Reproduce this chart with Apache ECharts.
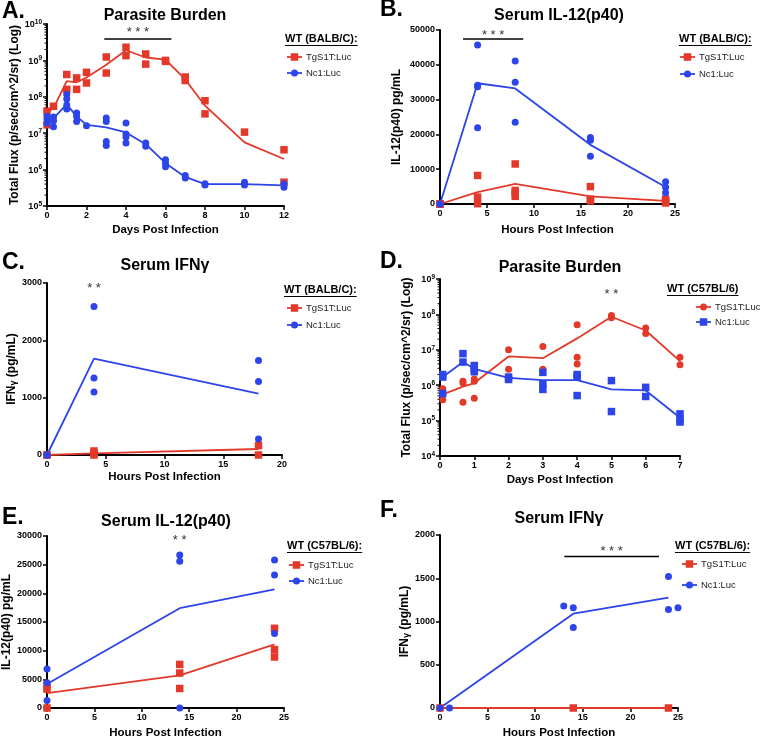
<!DOCTYPE html>
<html><head><meta charset="utf-8">
<script src="https://cdn.jsdelivr.net/npm/echarts@6/dist/echarts.min.js"></script>
<style>html,body{margin:0;padding:0;background:#fff}#c{width:760px;height:740px}</style>
</head><body><div id="c"></div>
<script>
// ---------------- DATA ----------------
// Panel A: Parasite Burden, WT (BALB/C), days
const aTgX = [0,0,0.33,1,1,1.5,1.5,2,2,3,3,4,4,5,5,6,6,7,7,8,8,10,12,12];
const aTgY = [4.0e7,1.7e7,5.5e7,4.1e8,1.6e8,3.3e8,1.6e8,4.7e8,2.4e8,1.24e9,4.5e8,2.3e9,1.35e9,1.5e9,7.9e8,1.0e9,9.4e8,3.5e8,2.8e8,7.8e7,3.4e7,1.07e7,3.5e6,4.5e5];
const aTgMeanX = [0,0.33,1,1.5,2,3,4,5,6,7,8,10,12];
const aTgMeanY = [3.6e7,4.9e7,2.7e8,2.5e8,3.4e8,7.6e8,1.9e9,1.2e9,1.05e9,3.0e8,5.7e7,5.6e6,1.95e6];
const aNcX = [0,0,0,0.33,0.33,0.33,1,1,1,1,1.5,1.5,1.5,2,3,3,3,3,4,4,4,4,5,5,6,6,6,7,7,8,8,10,10,12,12];
const aNcY = [2.5e7,1.9e7,2.9e7,2.8e7,2.2e7,1.5e7,1.15e8,8.7e7,6.0e7,4.6e7,3.6e7,2.9e7,2.1e7,1.6e7,2.6e7,2.1e7,5.9e6,4.6e6,1.9e7,9.5e6,7.9e6,5.4e6,5.4e6,4.4e6,1.86e6,1.5e6,1.2e6,6.9e5,5.9e5,4.1e5,3.8e5,4.5e5,3.8e5,4.0e5,3.3e5];
const aNcMeanX = [0,0.33,1,1.5,2,3,4,5,6,7,8,10,12];
const aNcMeanY = [2.3e7,2.6e7,6.2e7,2.9e7,1.7e7,1.45e7,1.05e7,5.0e6,1.5e6,6.3e5,4.0e5,4.0e5,3.7e5];

// Panel B: Serum IL-12(p40), WT (BALB/C), hours
const bTgX = [0,0,0,4,4,4,8,8,8,8,16,16,16,24,24,24];
const bTgY = [0,0,0,8200,2000,100,11500,3900,3200,2200,5000,1400,900,1400,800,300];
const bTgMeanX = [0,4,8,16,24];
const bTgMeanY = [0,3400,5800,2200,900];
const bNcX = [0,0,4,4,4,4,8,8,8,16,16,16,24,24,24];
const bNcY = [0,0,45700,34100,33700,21900,41100,35000,23500,19100,18300,13700,6400,4800,3200];
const bNcMeanX = [0,4,8,16,24];
const bNcMeanY = [0,34700,33200,17000,4900];

// Panel C: Serum IFNγ, WT (BALB/C), hours
const cTgX = [0,0,4,4,4,18,18];
const cTgY = [0,0,70,30,0,165,0];
const cTgMeanX = [0,4,18];
const cTgMeanY = [0,30,105];
const cNcX = [0,0,4,4,4,18,18,18];
const cNcY = [0,0,2590,1345,1100,1650,1280,280];
const cNcMeanX = [0,4,18];
const cNcMeanY = [0,1680,1070];

// Panel D: Parasite Burden, WT (C57BL/6), days
const dTgX = [0.08,0.08,0.08,0.67,0.67,0.67,1,1,1,2,2,3,3,4,4,4,5,5,6,6,7,7];
const dTgY = [7.9e5,5.8e5,3.9e5,1.3e6,1.15e6,3.3e5,1.5e6,1.3e6,4.3e5,1.0e7,2.8e6,1.23e7,2.8e6,5.1e7,6.2e6,4.0e6,9.3e7,8.0e7,4.1e7,2.9e7,6.2e6,3.8e6];
const dTgMeanX = [0.08,0.67,1,2,3,4,5,6,7];
const dTgMeanY = [5.5e5,9.1e5,1.15e6,6.5e6,5.8e6,2.1e7,8.6e7,3.5e7,4.8e6];
const dNcX = [0.08,0.08,0.08,0.67,0.67,1,1,1,2,2,3,3,3,4,4,4,5,5,6,6,7,7,7];
const dNcY = [2.0e6,1.7e6,5.8e5,7.8e6,4.5e6,3.6e6,2.9e6,2.4e6,1.7e6,1.45e6,2.3e6,1.1e6,7.6e5,2.0e6,1.7e6,5.1e5,1.35e6,1.8e5,8.7e5,4.8e5,1.55e5,1.1e5,9.1e4];
const dNcMeanX = [0.08,0.67,1,2,3,4,5,6,7];
const dNcMeanY = [1.7e6,4.5e6,2.9e6,1.6e6,1.4e6,1.4e6,7.6e5,7.1e5,1.2e5];

// Panel E: Serum IL-12(p40), WT (C57BL/6), hours
const eTgX = [0,0,0,14,14,14,24,24,24];
const eTgY = [3900,3300,0,7600,6100,3400,13900,10200,8900];
const eTgMeanX = [0,14,24];
const eTgMeanY = [2600,5700,11100];
const eNcX = [0,0,0,14,14,14,24,24,24];
const eNcY = [6800,4400,1300,26700,25600,0,25800,23200,13000];
const eNcMeanX = [0,14,24];
const eNcMeanY = [4200,17400,20700];

// Panel F: Serum IFNγ, WT (C57BL/6), hours
const fTgX = [0,14,24];
const fTgY = [0,0,0];
const fTgMeanX = [0,14,24];
const fTgMeanY = [0,0,0];
const fNcX = [0,1,13,14,14,24,24,25];
const fNcY = [0,0,1180,1160,930,1520,1140,1160];
const fNcMeanX = [0,14,24];
const fNcMeanY = [0,1090,1275];

const seriesNames = ['TgS1T:Luc', 'Nc1:Luc'];
const titles = ['Parasite Burden','Serum IL-12(p40)','Serum IFNγ','Parasite Burden','Serum IL-12(p40)','Serum IFNγ'];
const letters = ['A.','B.','C.','D.','E.','F.'];
const strains = ['WT (BALB/C):','WT (BALB/C):','WT (BALB/C):','WT (C57BL/6)','WT (C57BL/6):','WT (C57BL/6):'];
const xNames = ['Days Post Infection','Hours Post Infection','Hours Post Infection','Days Post Infection','Hours Post Infection','Hours Post Infection'];
const yNames = ['Total Flux (p/sec/cm^2/sr) (Log)','IL-12(p40) pg/mL','{a|IFN}{g|γ}{a| (pg/mL)}','Total Flux (p/sec/cm^2/sr) (Log)','IL-12(p40) pg/mL','{a|IFN}{g|γ}{a| (pg/mL)}'];
// significance marks: [x1, x2 (null = no bar), yBar, yText, text]
const sigMarks = [
  [2.9, 6.3, 3.9e9, 6.9e9, '* * *'],
  [2.45, 8.85, 47400, 49400, '* * *'],
  [4, null, null, 2950, '* *'],
  [5, null, null, 4.4e8, '* *'],
  [14, null, null, 29800, '* *'],
  [13.06, 23.0, 1752, 1840, '* * *']
];

// ---------------- LAYOUT ----------------
const RED = '#E3392B', BLUE = '#2C44E8';
const FONT = '"Liberation Sans", Arial, Helvetica, sans-serif';
const panels = [
  {grid:{left:47,top:24,width:237,height:182}, x:{min:0,max:12,interval:2}, y:{log:true,min:1e5,max:1e10}, xGap:18, yGap:23,
   tgSym:'rect', ncSym:'circle', data:[aTgX,aTgY,aTgMeanX,aTgMeanY,aNcX,aNcY,aNcMeanX,aNcMeanY],
   title:[165,16], letter:[2,12], leg:{hx:285,hy:39,lx:287,y1:57,y2:73}},
  {grid:{left:440,top:30,width:235,height:174}, x:{min:0,max:25,interval:5}, y:{min:0,max:50000,interval:10000}, xGap:20, yGap:37,
   tgSym:'rect', ncSym:'circle', data:[bTgX,bTgY,bTgMeanX,bTgMeanY,bNcX,bNcY,bNcMeanX,bNcMeanY],
   title:[559,16], letter:[380,10], leg:{hx:679,hy:39,lx:680,y1:57,y2:74}},
  {grid:{left:47,top:283,width:235,height:172}, x:{min:0,max:20,interval:5}, y:{min:0,max:3000,interval:1000}, xGap:16, yGap:26,
   tgSym:'rect', ncSym:'circle', data:[cTgX,cTgY,cTgMeanX,cTgMeanY,cNcX,cNcY,cNcMeanX,cNcMeanY],
   title:[165,266], letter:[2,263], leg:{hx:284,hy:290,lx:287,y1:308,y2:325}},
  {grid:{left:440,top:279,width:240,height:177}, x:{min:0,max:7,interval:1}, y:{log:true,min:1e4,max:1e9}, xGap:18, yGap:27,
   tgSym:'circle', ncSym:'rect', data:[dTgX,dTgY,dTgMeanX,dTgMeanY,dNcX,dNcY,dNcMeanX,dNcMeanY],
   title:[560,268], letter:[380,262], leg:{hx:667,hy:289,lx:696,y1:307,y2:322}},
  {grid:{left:47,top:536,width:237,height:174}, x:{min:0,max:25,interval:5}, y:{min:0,max:30000,interval:5000}, xGap:19, yGap:30,
   tgSym:'rect', ncSym:'circle', data:[eTgX,eTgY,eTgMeanX,eTgMeanY,eNcX,eNcY,eNcMeanX,eNcMeanY],
   title:[166,522], letter:[2,518], leg:{hx:287,hy:546,lx:289,y1:565,y2:581}},
  {grid:{left:440,top:535,width:238,height:175}, x:{min:0,max:25,interval:5}, y:{min:0,max:2000,interval:500}, xGap:19, yGap:27,
   tgSym:'rect', ncSym:'circle', data:[fTgX,fTgY,fTgMeanX,fTgMeanY,fNcX,fNcY,fNcMeanX,fNcMeanY],
   title:[559,519], letter:[380,511], leg:{hx:675,hy:546,lx:682,y1:564,y2:585}}
];

const zip = (xs, ys) => xs.map((x, i) => [x, ys[i]]);
const axisCommon = {
  axisLine:{show:true,onZero:false,lineStyle:{color:'#000',width:2}},
  axisTick:{show:true,length:4,lineStyle:{color:'#000',width:1.5}},
  splitLine:{show:false}
};
const labelStyle = {fontFamily:FONT,fontWeight:'bold',fontSize:9,color:'#000',margin:5, formatter: v => String(v)};

const option = {
  animation:false,
  backgroundColor:'#fff',
  grid: panels.map(p => Object.assign({containLabel:false}, p.grid)),
  xAxis: panels.map((p, i) => Object.assign({}, axisCommon, {
    gridIndex:i, type:'value', min:p.x.min, max:p.x.max, interval:p.x.interval,
    name:xNames[i], nameLocation:'middle', nameGap:p.xGap,
    nameTextStyle:{fontFamily:FONT,fontWeight:'bold',fontSize:11.5,color:'#000'},
    axisLabel:labelStyle
  })),
  yAxis: panels.map((p, i) => {
    const ax = Object.assign({}, axisCommon, {
      gridIndex:i, min:p.y.min, max:p.y.max,
      name:yNames[i], nameLocation:'middle', nameGap:p.yGap,
      nameTextStyle:{fontFamily:FONT,fontWeight:'bold',fontSize:12,color:'#000',
        rich:{a:{fontFamily:FONT,fontWeight:'bold',fontSize:12,color:'#000'},g:{fontFamily:FONT,fontWeight:'bold',fontSize:9,color:'#000',verticalAlign:'bottom'}}}
    });
    if (p.y.log) {
      ax.type = 'log'; ax.logBase = 10; ax.splitNumber = 5;
      ax.axisLabel = Object.assign({}, labelStyle, {
        formatter: v => '{a|10}{b|' + Math.round(Math.log10(v)) + '}',
        rich:{a:{fontFamily:FONT,fontWeight:'bold',fontSize:9,color:'#000',lineHeight:11,verticalAlign:'bottom'},
              b:{fontFamily:FONT,fontWeight:'bold',fontSize:6.5,color:'#000',lineHeight:11,verticalAlign:'top'}}
      });
    } else {
      ax.type = 'value'; ax.interval = p.y.interval;
      ax.axisLabel = labelStyle;
    }
    return ax;
  }),
  series: []
};

panels.forEach((p, i) => {
  const [tx, ty, tmx, tmy, nx, ny, nmx, nmy] = p.data;
  option.series.push(
    {type:'line', name:seriesNames[0], xAxisIndex:i, yAxisIndex:i, data:zip(tmx,tmy), symbol:'none', clip:false,
     lineStyle:{color:RED,width:1.8}, z:3},
    {type:'line', name:seriesNames[1], xAxisIndex:i, yAxisIndex:i, data:zip(nmx,nmy), symbol:'none', clip:false,
     lineStyle:{color:BLUE,width:1.8}, z:3},
    {type:'scatter', name:seriesNames[0], xAxisIndex:i, yAxisIndex:i, data:zip(tx,ty), symbol:p.tgSym,
     symbolSize:p.tgSym === 'rect' ? 7.5 : 7, clip:false, itemStyle:{color:RED,opacity:1}, z:4},
    {type:'scatter', name:seriesNames[1], xAxisIndex:i, yAxisIndex:i, data:zip(nx,ny), symbol:p.ncSym,
     symbolSize:p.ncSym === 'rect' ? 7.5 : 7, clip:false, itemStyle:{color:BLUE,opacity:1}, z:4}
  );
});

const chart = echarts.init(document.getElementById('c'));
chart.setOption(option);

// ---------------- DECORATIONS ----------------
const mctx = document.createElement('canvas').getContext('2d');
function textW(font, t) { mctx.font = font; return mctx.measureText(t).width; }
const g = [];
const txt = (x, y, text, font, align, fill) => g.push({type:'text', x, y, silent:true,
  style:{text, font, fill:fill || '#000', align:align || 'left', verticalAlign:'middle'}});
panels.forEach((p, i) => {
  txt(p.title[0], p.title[1], titles[i], 'bold 16px ' + FONT, 'center');
  txt(p.letter[0], p.letter[1], letters[i], 'bold 23px ' + FONT, 'left');
  const L = p.leg;
  const hf = 'bold 11px ' + FONT;
  txt(L.hx, L.hy, strains[i], hf, 'left');
  g.push({type:'line', silent:true, shape:{x1:L.hx, y1:L.hy + 6.5, x2:L.hx + textW(hf, strains[i]), y2:L.hy + 6.5}, style:{stroke:'#000', lineWidth:1}});
  [[L.y1, RED, p.tgSym, seriesNames[0]], [L.y2, BLUE, p.ncSym, seriesNames[1]]].forEach(([yy, col, sym, nm]) => {
    g.push({type:'line', silent:true, shape:{x1:L.lx, y1:yy, x2:L.lx + 15, y2:yy}, style:{stroke:col, lineWidth:1.8}});
    if (sym === 'rect') g.push({type:'rect', silent:true, shape:{x:L.lx + 3.75, y:yy - 3.75, width:7.5, height:7.5}, style:{fill:col}});
    else g.push({type:'circle', silent:true, shape:{cx:L.lx + 7.5, cy:yy, r:3.5}, style:{fill:col}});
    txt(L.lx + 19, yy, nm, '9.5px ' + FONT, 'left', '#222');
  });
  if (p.y.log) {
    const e0 = Math.round(Math.log10(p.y.min)), e1 = Math.round(Math.log10(p.y.max));
    for (let e = e0; e < e1; e++) for (let m = 2; m <= 9; m++) {
      const py = chart.convertToPixel({yAxisIndex:i}, m * Math.pow(10, e));
      g.push({type:'line', silent:true, shape:{x1:p.grid.left - 2.5, y1:py, x2:p.grid.left, y2:py}, style:{stroke:'#000', lineWidth:1}});
    }
  }
  const s = sigMarks[i];
  if (s[1] !== null) {
    const a = chart.convertToPixel({gridIndex:i}, [s[0], s[2]]);
    const b = chart.convertToPixel({gridIndex:i}, [s[1], s[2]]);
    g.push({type:'line', silent:true, shape:{x1:a[0], y1:a[1], x2:b[0], y2:b[1]}, style:{stroke:'#000', lineWidth:1.5}});
    const c = chart.convertToPixel({gridIndex:i}, [(s[0] + s[1]) / 2, s[3]]);
    txt(c[0], c[1] + 3, s[4], '13px ' + FONT, 'center', '#333');
  } else {
    const c = chart.convertToPixel({gridIndex:i}, [s[0], s[3]]);
    txt(c[0], c[1] + 3, s[4], '13px ' + FONT, 'center', '#333');
  }
});
chart.setOption({graphic: g});
</script>
</body></html>
